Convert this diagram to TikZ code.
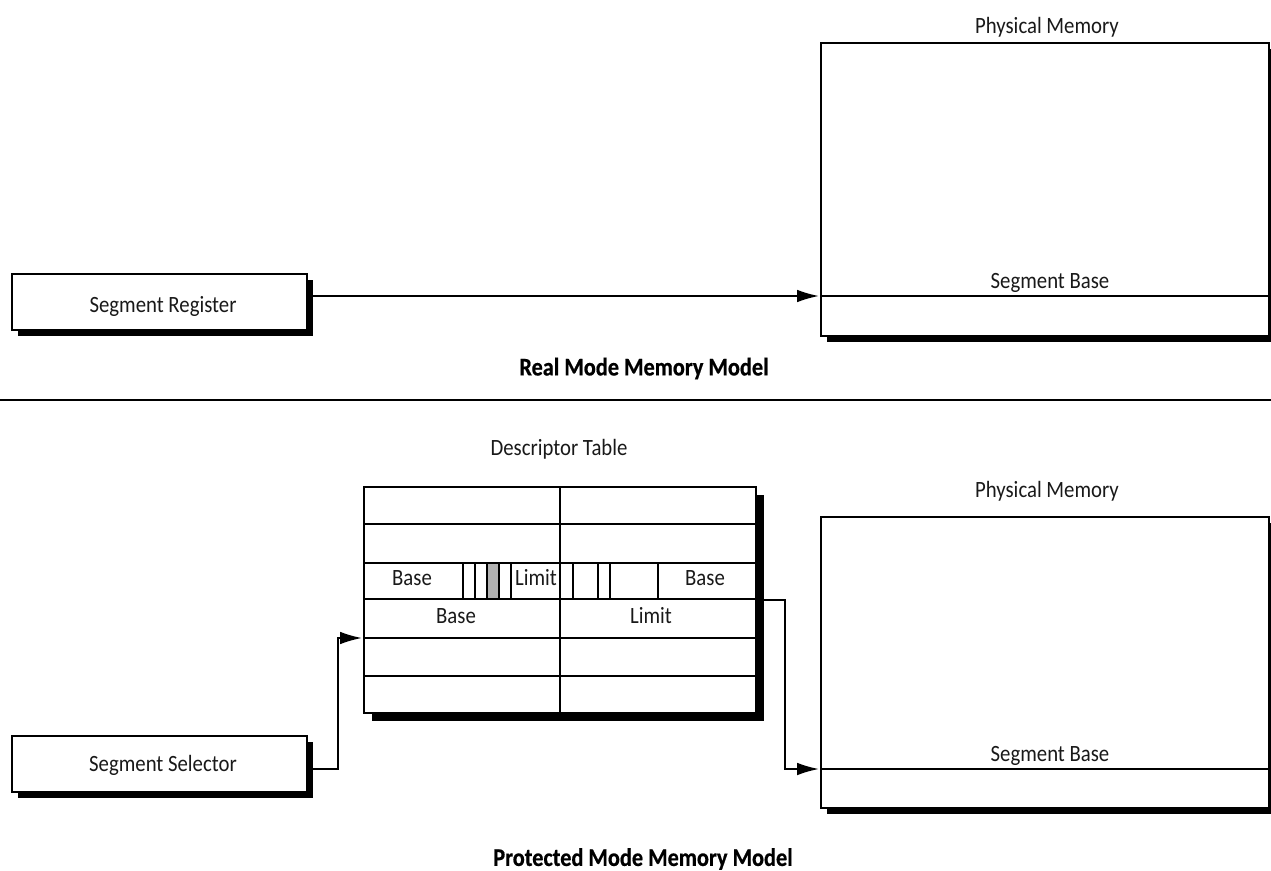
\documentclass[tikz,border=0pt]{standalone}
\usepackage{fontspec}
\setmainfont{Carlito}
\newfontfamily\lblf[FakeStretch=0.89]{Carlito}
\newfontfamily\ttlf[FakeStretch=0.88,BoldFeatures={FakeBold=0.6}]{Carlito}
\usetikzlibrary{arrows.meta,shadows,calc}
\tikzset{
  x=0.75pt,y=-0.75pt,
  lw/.style={line width=1.4pt},
  box/.style={draw,lw,fill=white,inner sep=0pt,outer sep=0pt,anchor=north west,
    general shadow={fill=black,shadow xshift=#1*0.75pt,shadow yshift=-#1*0.75pt}},
  box/.default=6,
  lbl/.style={font=\fontsize{17.5}{19}\lblf\selectfont,inner sep=0pt,text=black!90},
  ttl/.style={font=\fontsize{19}{21}\ttlf\bfseries\selectfont,inner sep=0pt},
  conn/.style={lw,-{Latex[length=16.5pt,width=9.5pt]}},
  plain/.style={lw}
}
\newcommand{\bx}[6][6]{\node[box=#1,minimum width=#5*0.75pt,minimum height=#6*0.75pt] (#2) at (#3,#4) {};}
\begin{document}
\begin{tikzpicture}
\useasboundingbox (0,0) rectangle (1271,871);
% Real mode
\bx{reg}{12}{274}{295}{56}
\node[lbl] (regt) at (163,306) {Segment Register};
\bx{pm}{821}{43}{448}{293}
\node[lbl] (pmt) at (1047,27) {Physical Memory};
\coordinate (pmb) at (821,296);
\coordinate (pmbe) at (1269,296);
\draw[plain] (pmb) -- (pmbe);
\node[lbl] (pmbt) at (1050,283) {Segment Base};
\coordinate (regout) at (313,296);
\coordinate (pmin) at (819,296);
\draw[conn] (regout) -- (pmin);
\node[ttl] (t1) at (644,368.5) {Real Mode Memory Model};
\coordinate (ruleL) at (0,400);
\coordinate (ruleR) at (1271,400);
\draw[plain] (ruleL) -- (ruleR);
% Protected mode
\bx{sel}{12}{736}{295}{56}
\node[lbl] (selt) at (163,765) {Segment Selector};
\bx{pmm}{821}{517}{448}{291}
\node[lbl] (pmmt) at (1047,491) {Physical Memory};
\coordinate (pmmb) at (821,769);
\coordinate (pmme) at (1269,769);
\draw[plain] (pmmb) -- (pmme);
\node[lbl] (pmmbt) at (1050,756) {Segment Base};
\node[lbl] (dtt) at (559,449) {Descriptor Table};
\bx[8]{tab}{364}{487}{392}{226}
\foreach \yy in {524,563,599,638,676} {\draw[plain] (364,\yy) -- (756,\yy);}
\draw[plain] (560,487) -- (560,713);
\foreach \xx in {463,475,487,499,511,573,598,610,658} {\draw[plain] (\xx,563) -- (\xx,599);}
\filldraw[lw,fill=black!30] (487,563) rectangle (499,599);
\node[lbl] (b1) at (412,578) {Base};
\node[lbl] (l1) at (536,578) {Limit};
\node[lbl] (b2) at (705,578) {Base};
\node[lbl] (b3) at (456,616) {Base};
\node[lbl] (l2) at (651,616) {Limit};
\coordinate (selout) at (313,769);
\coordinate (selb) at (338,769);
\coordinate (selu) at (338,638);
\coordinate (tabin) at (362,638);
\draw[conn] (selout) -- (selb) -- (selu) -- (tabin);
\coordinate (tabout) at (764,600);
\coordinate (c1) at (785,600);
\coordinate (c2) at (785,769);
\coordinate (pmmin) at (819,769);
\draw[conn] (tabout) -- (c1) -- (c2) -- (pmmin);
\node[ttl] (t2) at (643,859) {Protected Mode Memory Model};
\end{tikzpicture}
\end{document}
